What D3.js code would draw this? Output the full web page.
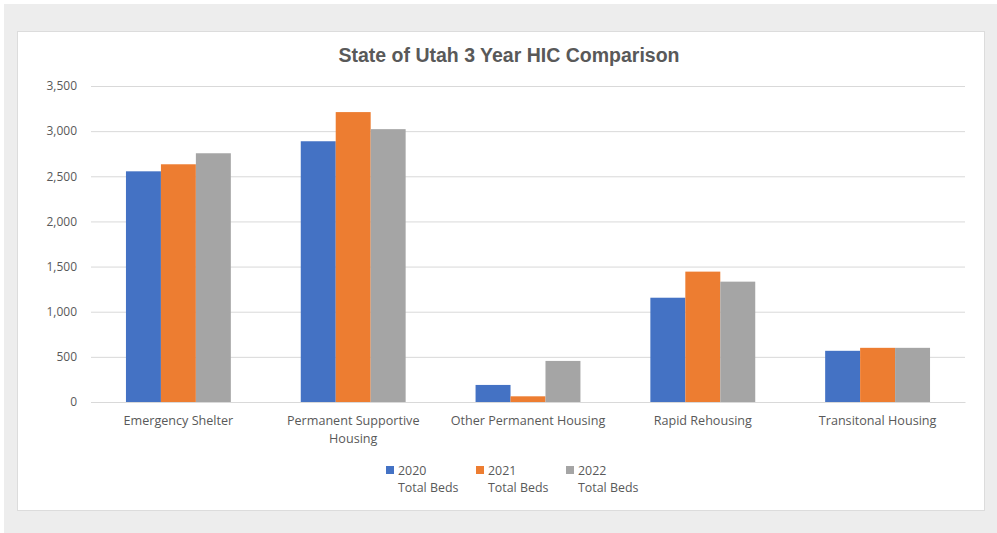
<!DOCTYPE html>
<html>
<head>
<meta charset="utf-8">
<title>State of Utah 3 Year HIC Comparison</title>
<script src="https://cdnjs.cloudflare.com/ajax/libs/d3/7.8.5/d3.min.js"></script>
<style>
  body { margin: 0; background: #fff; }
  text { font-family: "Open Sans", "Liberation Sans", sans-serif; fill: #595959; }
</style>
</head>
<body>
<div id="chartDiv"></div>
<script>
  // data
  const categories = ['Emergency Shelter', 'Permanent Supportive Housing', 'Other Permanent Housing', 'Rapid Rehousing', 'Transitonal Housing'];
  const seriesNames = ['2020', '2021', '2022'];
  const beds2020 = [2555, 2888, 189, 1155, 567];
  const beds2021 = [2633, 3211, 63, 1444, 600];
  const beds2022 = [2755, 3022, 455, 1333, 600];
  const yTicks = [0, 500, 1000, 1500, 2000, 2500, 3000, 3500];
  const colors = ['#4472C4', '#ED7D31', '#A5A5A5'];

  const allSeries = [beds2020, beds2021, beds2022];
  const rows = categories.map((c, i) => ({
    cat: c,
    vals: seriesNames.map((s, j) => ({ key: s, value: allSeries[j][i] }))
  }));

  const W = 997, H = 533;
  const margin = { left: 91, right: 32, top: 86, bottom: 131 };
  const innerW = W - margin.left - margin.right;
  const innerH = H - margin.top - margin.bottom;

  const svg = d3.select('#chartDiv').append('svg')
    .attr('width', W).attr('height', H);

  // page background and white chart panel
  svg.append('rect').attr('x', 4).attr('y', 4).attr('width', W - 4).attr('height', H - 4)
    .attr('fill', '#ededed');
  svg.append('rect').attr('x', 17.5).attr('y', 31.5).attr('width', 967).attr('height', 479)
    .attr('fill', '#fff').attr('stroke', '#dcdcdc');

  svg.append('text')
    .attr('x', 509).attr('y', 62)
    .attr('text-anchor', 'middle')
    .style('font-family', '"Liberation Sans", Arial, sans-serif')
    .style('font-size', '19.5px').style('font-weight', 'bold')
    .text('State of Utah 3 Year HIC Comparison');

  const g = svg.append('g').attr('transform', `translate(${margin.left},${margin.top})`);

  const x0 = d3.scaleBand().domain(categories).range([0, innerW]).padding(0);
  const x1 = d3.scaleBand().domain(seriesNames).range([0, x0.bandwidth()])
    .paddingInner(0).paddingOuter(1);
  const y = d3.scaleLinear().domain([0, 3500]).range([innerH, 0]);

  // gridlines + y labels
  const yAxis = d3.axisLeft(y).tickValues(yTicks).tickFormat(d3.format(',')).tickSize(-innerW).tickPadding(14);
  const yG = g.append('g').call(yAxis);
  yG.select('.domain').remove();
  yG.selectAll('.tick line').attr('stroke', '#d9d9d9');
  yG.selectAll('.tick text').style('font-size', '12px').attr('fill', '#595959');

  // bars
  const groups = g.selectAll('.grp').data(rows).enter().append('g')
    .attr('class', 'grp')
    .attr('transform', d => `translate(${x0(d.cat)},0)`);
  groups.selectAll('rect').data(d => d.vals).enter().append('rect')
    .attr('x', d => x1(d.key))
    .attr('width', x1.bandwidth())
    .attr('y', d => y(d.value))
    .attr('height', d => innerH - y(d.value))
    .attr('fill', (d, i) => colors[i]);

  // x axis labels (wrapped like the original)
  const xAxis = d3.axisBottom(x0).tickSize(0).tickPadding(14);
  const xG = g.append('g').attr('transform', `translate(0,${innerH})`).call(xAxis);
  xG.select('.domain').attr('stroke', '#d9d9d9');
  xG.selectAll('.tick text').style('font-size', '12.6px').attr('fill', '#595959')
    .each(function(d) {
      const t = d3.select(this);
      if (d === 'Permanent Supportive Housing') {
        t.text(null);
        t.append('tspan').attr('x', 0).attr('dy', '0.71em').text('Permanent Supportive');
        t.append('tspan').attr('x', 0).attr('dy', '1.45em').text('Housing');
      }
    });

  // legend
  const legend = svg.append('g').attr('transform', 'translate(386,466)');
  const items = legend.selectAll('g').data(seriesNames).enter().append('g')
    .attr('transform', (d, i) => `translate(${i * 90},0)`);
  items.append('rect').attr('width', 8).attr('height', 8).attr('fill', (d, i) => colors[i]);
  items.append('text').attr('x', 12).attr('y', 8.5).style('font-size', '12.4px').text(d => d);
  items.append('text').attr('x', 12).attr('y', 26).style('font-size', '12.4px').text('Total Beds');
</script>
</body>
</html>
